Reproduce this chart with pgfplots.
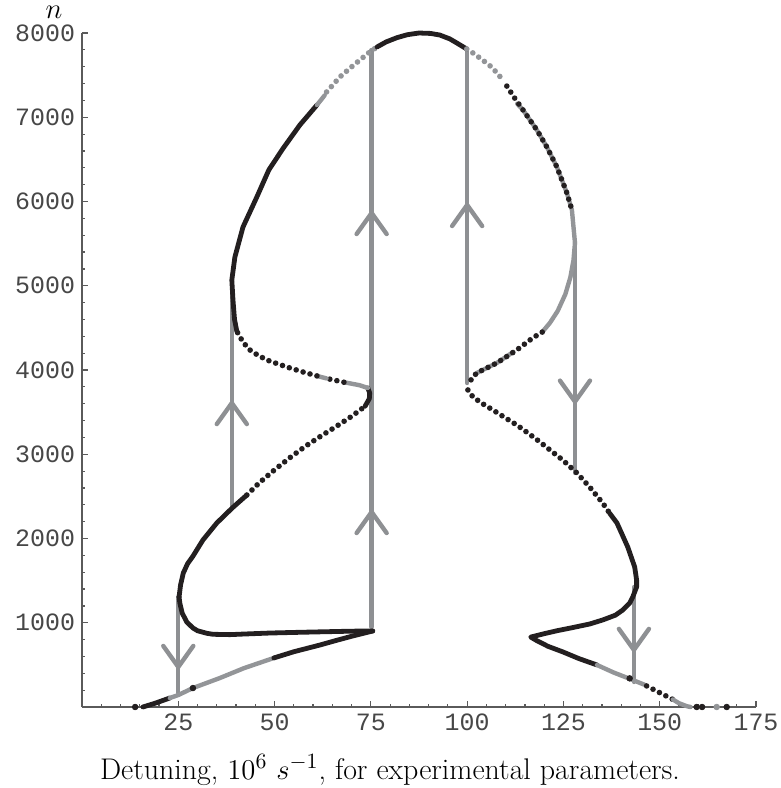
\documentclass[border=0pt]{standalone}
\usepackage{fontspec}
\usepackage{pgfplots}
\pgfplotsset{compat=1.18}
\newfontfamily\monof{Liberation Mono}
\definecolor{blk}{HTML}{231F20}
\definecolor{gry}{HTML}{939598}
\definecolor{vgry}{HTML}{8E9093}
\definecolor{axc}{HTML}{5A5A5A}
\tikzset{
 bsol/.style={blk, line width=2.4bp, line join=round, line cap=round},
 bdot/.style={blk, line width=2.8bp, line cap=round, dash pattern=on 0pt off 3.6bp},
 gsol/.style={gry, line width=2.2bp, line cap=round, line join=round},
 gdot/.style={gry, line width=2.8bp, line cap=round, dash pattern=on 0pt off 3.6bp},
 vln/.style={vgry, line width=2.2bp, line cap=round, line join=round},
}
\begin{document}
\begin{tikzpicture}
\useasboundingbox (-41bp,-40.5bp) rectangle (349.5bp,353.5bp);
\begin{axis}[
 at={(0,0)}, anchor=south west,
 scale only axis, width=337bp, height=337bp,
 xmin=0, xmax=175, ymin=0, ymax=8000,
 axis lines=left, axis line style={axc, line width=0.6bp, -},
 xtick={25,50,75,100,125,150,175},
 xticklabels={25,50,75,100,125,150,175},
 ytick={1000,2000,3000,4000,5000,6000,7000,8000},
 yticklabels={1000,2000,3000,4000,5000,6000,7000,8000},
 minor xtick={5,10,...,170}, minor ytick={200,400,...,7800},
 tick align=inside, major tick length=2.8bp, minor tick length=1.7bp,
 every tick/.style={axc, line width=0.6bp},
 ticklabel style={font=\monof\fontsize{12.5}{14}\selectfont, text=black!72},
 yticklabel style={inner ysep=0pt},
 xlabel={Detuning, $10^6$ $s^{-1}$, for experimental parameters.},
 xlabel style={font=\fontsize{15}{18}\selectfont, at={(axis description cs:0.457,0)}, anchor=base, yshift=-36bp},
 ylabel={$n$},
 ylabel style={font=\Large, rotate=-90, inner sep=0pt, at={(axis description cs:-0.0415,1.0305)}, anchor=center},
 clip=false,
]
% vertical transition lines with chevrons
\addplot[vln] coordinates {(25,1306) (25,165)};
\addplot[vln] coordinates {(21.1,725) (25,475) (28.9,725)};
\addplot[vln] coordinates {(38.9,2362) (38.9,4914)};
\addplot[vln] coordinates {(35,3358) (38.9,3608) (42.8,3358)};
\addplot[vln] coordinates {(75.2,950) (75.2,7798)};
\addplot[vln] coordinates {(71.3,2065) (75.2,2315) (79.1,2065)};
\addplot[vln] coordinates {(71.3,5614) (75.2,5864) (79.1,5614)};
\addplot[vln] coordinates {(100,3846) (100,7798)};
\addplot[vln] coordinates {(96.1,5709) (100,5959) (103.9,5709)};
\addplot[vln] coordinates {(128,5508) (128,2778)};
\addplot[vln] coordinates {(124.1,3874) (128,3624) (131.9,3874)};
\addplot[vln] coordinates {(143.3,1424) (143.3,297)};
\addplot[vln] coordinates {(139.4,927) (143.3,677) (147.2,927)};
% curve
\addplot[bsol] coordinates {(15.8,0) (19,45) (22.8,107)};
\addplot[gsol] coordinates {(22.8,107) (25,142) (28.8,225) (35.8,344) (42,460) (49.8,582)};
\addplot[bsol] coordinates {(49.8,582) (55,656) (61.8,736) (66,790) (70.3,843) (74,885) (75.5,902)};
\addplot[bsol] coordinates {(75.5,902) (74,903) (68,898) (61.8,892) (55,885) (48.8,878) (42,866) (38.4,859) (34,863) (32.4,875) (30,905) (28.8,938) (27.2,1009) (26,1116) (25.4,1234) (25.2,1306)};
\addplot[bsol] coordinates {(25.2,1306) (25.6,1450) (26.3,1590) (27.4,1700) (28.8,1790) (31.4,1982) (35,2184) (39,2362) (42.8,2516)};
\addplot[bdot] coordinates {(42.8,2516) (46,2660) (50,2815) (54,2960) (58,3095) (62,3215) (66,3330) (70,3450) (73.5,3570)};
\addplot[bsol] coordinates {(73.5,3570) (74.6,3660) (74.7,3727) (74.2,3787)};
\addplot[gsol] coordinates {(74.2,3787) (72,3820) (68,3855)};
\addplot[bdot] coordinates {(68,3855) (63.5,3900)};
\addplot[gsol] coordinates {(63.5,3900) (61,3930)};
\addplot[bdot] coordinates {(61,3930) (57.5,3975) (54,4024) (51,4070) (48,4119) (45.5,4180) (43.6,4238) (42,4320) (41,4393) (40.2,4460)};
\addplot[bsol] coordinates {(40.2,4460) (39.6,4600) (39.2,4832) (38.9,5068) (39.7,5341) (41.8,5697) (45.4,6054) (48.5,6374) (52.2,6630) (56.6,6910) (61,7145)};
\addplot[gsol] coordinates {(61,7145) (63,7260)};
\addplot[gdot] coordinates {(63.5,7300) (67,7480) (70.3,7610) (74.7,7775) (76.6,7834)};
\addplot[bsol] coordinates {(76.6,7834) (79,7895) (81.8,7945) (84.5,7980) (87.5,8000) (90.5,7995) (92.9,7976) (95.5,7930) (97.3,7882) (99.9,7810)};
\addplot[gdot] coordinates {(99.9,7810) (101.5,7763) (104,7680) (106.5,7590) (109.3,7442)};
\addplot[gsol] coordinates {(113,7160) (114.5,7087) (118.1,6849) (120.7,6647) (123.3,6410) (125.9,6101) (127.2,5900) (128,5508)};
\addplot[bdot] coordinates {(110.3,7370) (112.3,7230) (114.5,7087) (118.1,6849) (120.7,6647) (123.3,6410) (125.9,6101) (127.2,5900)};
\addplot[gsol] coordinates {(128,5508) (127.6,5300) (126.8,5100) (125.5,4900) (123.5,4700) (121.5,4560) (119.5,4450)};
\addplot[gsol] coordinates {(102.5,3965) (107.7,4083) (112,4215)};
\addplot[bdot] coordinates {(119.5,4450) (117,4380) (112.9,4238) (107.7,4083) (102.5,3965) (101.2,3900) (100.4,3830)};
\addplot[bdot] coordinates {(100.2,3763) (101.5,3680) (104,3600) (106.7,3525) (109.8,3435) (112.9,3347) (115.9,3248) (118.9,3146) (121.8,3040) (124.8,2932) (128.5,2778) (131.8,2611) (135.2,2421) (137,2300)};
\addplot[bsol] coordinates {(137,2300) (138.9,2184) (141.7,1899) (143.5,1662) (144,1507) (144,1424) (143,1306) (142.2,1234) (140.4,1151) (138.5,1090) (135.2,1033) (131.8,985) (126.6,935) (123.3,905) (120,870) (116.5,830) (118,790) (121,720) (124.8,655) (129,575) (133.7,499)};
\addplot[gsol] coordinates {(133.7,499) (138,410) (142.2,335) (146,265)};
\addplot[bdot] coordinates {(146.6,250) (150,170) (153.4,90)};
\addplot[gsol] coordinates {(153.4,90) (155,45) (157,10) (158,0)};
\addplot[only marks, mark=*, mark size=1.4bp, blk] coordinates {(13.8,0) (159.6,0) (161,0) (167.4,0) (142.2,340) (28.8,225)};
\addplot[only marks, mark=*, mark size=1.4bp, gry] coordinates {(164.8,0)};
\end{axis}
\end{tikzpicture}
\end{document}
